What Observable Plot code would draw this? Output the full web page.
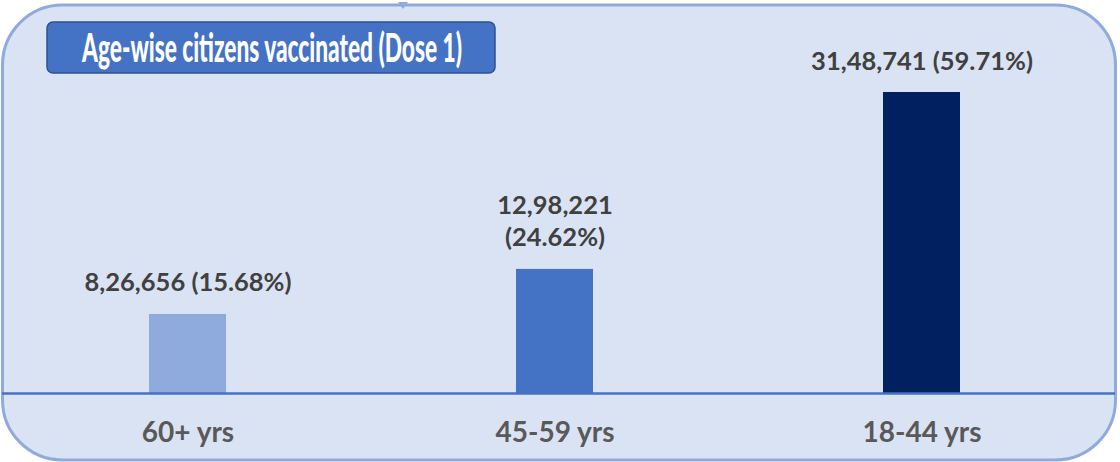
<!DOCTYPE html>
<html>
<head>
<meta charset="utf-8">
<script src="https://cdn.jsdelivr.net/npm/d3@7"></script>
<script src="https://cdn.jsdelivr.net/npm/@observablehq/plot@0.6"></script>
<style>
  html, body { margin: 0; padding: 0; background: #ffffff; }
</style>
</head>
<body>
<div id="chart"></div>
<script>
const title = "Age-wise citizens vaccinated (Dose 1)";
const categories = ["60+ yrs", "45-59 yrs", "18-44 yrs"];
const values = [826656, 1298221, 3148741];
const valueLabels = ["8,26,656 (15.68%)", "12,98,221\n(24.62%)", "31,48,741 (59.71%)"];
const colors = ["#8faadc", "#4472c4", "#002060"];

const data = categories.map((c, i) => ({cat: c, value: values[i], label: valueLabels[i]}));

const W = 1120, H = 462;

function panel(index, scales, vals, dims) {
  const g = d3.create("svg:g");
  g.append("rect")
    .attr("x", 2.5).attr("y", 5)
    .attr("width", W - 2.5 - 4.5).attr("height", H - 5 - 2)
    .attr("rx", 60).attr("ry", 60)
    .attr("fill", "#dae3f3")
    .attr("stroke", "#8faadc")
    .attr("stroke-width", 3);
  g.append("path")
    .attr("d", "M398,2 L408,2 L403,9 Z")
    .attr("fill", "#8faadc");
  return g.node();
}

function titleBox() {
  const g = d3.create("svg:g");
  g.append("rect")
    .attr("x", 47).attr("y", 22)
    .attr("width", 448).attr("height", 51)
    .attr("rx", 6).attr("ry", 6)
    .attr("fill", "#4472c4")
    .attr("stroke", "#2f528f")
    .attr("stroke-width", 1.5);
  g.append("text")
    .attr("x", 272).attr("y", 62)
    .attr("text-anchor", "middle")
    .attr("fill", "#ffffff")
    .attr("font-family", "Lato, sans-serif")
    .attr("font-weight", 900)
    .attr("font-size", 40)
    .attr("textLength", 380)
    .attr("lengthAdjust", "spacingAndGlyphs")
    .text(title);
  return g.node();
}

const chart = Plot.plot({
  width: W,
  height: H,
  marginLeft: 2,
  marginRight: 12,
  marginTop: 92,
  marginBottom: 69,
  style: {fontFamily: "Lato, sans-serif", background: "#ffffff"},
  x: {domain: categories, paddingInner: 0.79, paddingOuter: 0.4, axis: null},
  y: {domain: [0, d3.max(values)], axis: null},
  color: {domain: categories, range: colors},
  marks: [
    panel,
    Plot.barY(data, {x: "cat", y: "value", fill: "cat"}),
    Plot.ruleY([0], {stroke: "#4472c4", strokeWidth: 2.5, insetLeft: 0, insetRight: -7}),
    Plot.text(data, {
      x: "cat", y: "value", text: "label",
      lineAnchor: "bottom", dy: -23, lineHeight: 1.26,
      fontSize: 25.5, fontWeight: "bold", fill: "#404040"
    }),
    Plot.axisX({
      tickSize: 0, tickPadding: 29, fontSize: 28, fontWeight: "bold",
      fill: "#595959", label: null
    }),
    titleBox
  ]
});

document.getElementById("chart").appendChild(chart);
</script>
</body>
</html>
